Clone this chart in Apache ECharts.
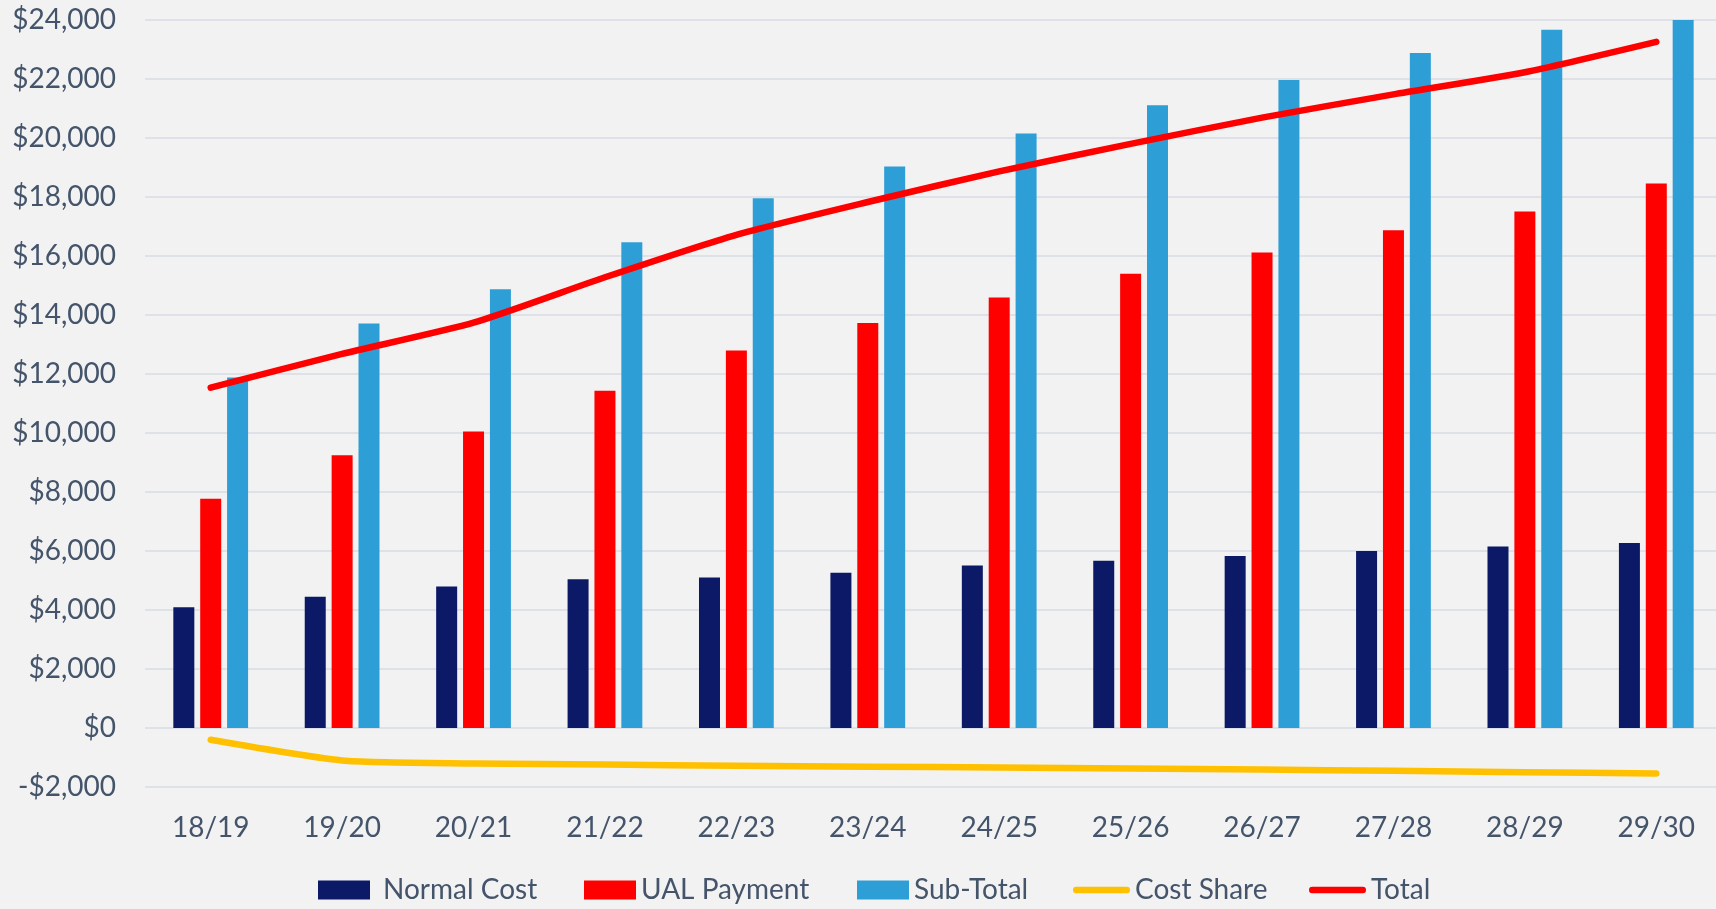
<!DOCTYPE html>
<html>
<head>
<meta charset="utf-8">
<script src="https://cdn.jsdelivr.net/npm/echarts@6/dist/echarts.min.js"></script>
<style>
  html, body { margin: 0; padding: 0; background: #F2F2F2; overflow: hidden; }
  #chart { width: 1730px; height: 909px; }
</style>
</head>
<body>
<div id="chart"></div>
<script>
const categories = ['18/19','19/20','20/21','21/22','22/23','23/24','24/25','25/26','26/27','27/28','28/29','29/30'];
const normalCost = [4090, 4450, 4800, 5040, 5100, 5260, 5510, 5670, 5830, 6000, 6150, 6270];
const ualPayment = [7770, 9250, 10050, 11430, 12800, 13730, 14590, 15400, 16120, 16870, 17510, 18460];
const subTotal   = [11880, 13710, 14870, 16470, 17960, 19030, 20150, 21110, 21970, 22880, 23670, 24000];
const costShare  = [-400, -1100, -1200, -1240, -1280, -1310, -1340, -1370, -1410, -1450, -1500, -1540];
const total      = [11540, 12680, 13740, 15280, 16720, 17830, 18870, 19800, 20690, 21480, 22230, 23260];
const seriesNames = ['Normal Cost', 'UAL Payment', 'Sub-Total', 'Cost Share', 'Total'];
const yTicks = { min: -2000, max: 24000, interval: 2000 };

const textColor = '#44546A';
const fontFamily = 'Lato';
const lineIcon = 'path://M3.25,0L53.75,0A3.25,3.25,0,0,1,53.75,6.5L3.25,6.5A3.25,3.25,0,0,1,3.25,0Z';

function makeLegend(name, left, isLine, padLeft) {
  return {
    left: left,
    top: 871,
    itemWidth: isLine ? 57 : 52,
    itemHeight: 19,
    itemGap: 0,
    textStyle: { fontFamily: fontFamily, fontSize: 28, color: textColor, padding: [0, 0, 0, padLeft || 0] },
    data: [{ name: name, icon: isLine ? lineIcon : 'rect' }]
  };
}

const chart = echarts.init(document.getElementById('chart'));
chart.setOption({
  backgroundColor: '#F2F2F2',
  animation: false,
  textStyle: { fontFamily: fontFamily, color: textColor },
  grid: { left: 145, top: 20, width: 1577, height: 767, containLabel: false },
  legend: [
    makeLegend(seriesNames[0], 313, false, 8),
    makeLegend(seriesNames[1], 579, false),
    makeLegend(seriesNames[2], 852, false),
    makeLegend(seriesNames[3], 1068, true),
    makeLegend(seriesNames[4], 1304, true)
  ],
  xAxis: {
    type: 'category',
    data: categories,
    axisLine: { show: false },
    axisTick: { show: false },
    axisLabel: { fontFamily: fontFamily, fontSize: 28, color: textColor, margin: 27 }
  },
  yAxis: {
    type: 'value',
    min: yTicks.min,
    max: yTicks.max,
    interval: yTicks.interval,
    axisLine: { show: false },
    axisTick: { show: false },
    splitLine: { lineStyle: { color: '#DEE2E8', width: 2 } },
    axisLabel: {
      fontFamily: fontFamily, fontSize: 28, color: textColor, margin: 29,
      formatter: function (v) {
        const s = '$' + Math.abs(v).toLocaleString('en-US');
        return v < 0 ? '-' + s : s;
      }
    }
  },
  series: [
    { name: seriesNames[0], type: 'bar', data: normalCost, barWidth: 21, barGap: '28%',
      itemStyle: { color: '#0B1966' } },
    { name: seriesNames[1], type: 'bar', data: ualPayment, barWidth: 21, barGap: '28%',
      itemStyle: { color: '#FF0000' } },
    { name: seriesNames[2], type: 'bar', data: subTotal, barWidth: 21, barGap: '28%',
      itemStyle: { color: '#2E9ED6' } },
    { name: seriesNames[3], type: 'line', data: costShare, symbol: 'none', showSymbol: false, smooth: 0.2,
      lineStyle: { color: '#FFC000', width: 6.5, cap: 'round', join: 'round' },
      itemStyle: { color: '#FFC000' }, z: 3 },
    { name: seriesNames[4], type: 'line', data: total, symbol: 'none', showSymbol: false, smooth: 0.2,
      lineStyle: { color: '#FF0000', width: 6.5, cap: 'round', join: 'round' },
      itemStyle: { color: '#FF0000' }, z: 4 }
  ]
});
</script>
</body>
</html>
